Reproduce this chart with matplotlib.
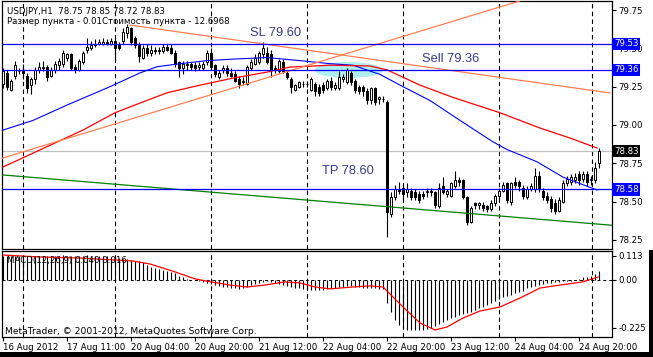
import numpy as np
import matplotlib
matplotlib.use('Agg')
import matplotlib.pyplot as plt
from matplotlib.patches import Ellipse, Rectangle

# ---------------- data ----------------
opens = [79.27, 79.34, 79.23, 79.32, 79.35, 79.35, 79.32, 79.26, 79.30, 79.36,
         79.37, 79.38, 79.32, 79.36, 79.39, 79.40, 79.44, 79.46, 79.38, 79.36,
         79.41, 79.49, 79.50, 79.52, 79.53, 79.53, 79.54, 79.53, 79.55, 79.52,
         79.55, 79.60, 79.63, 79.57, 79.52, 79.44, 79.50, 79.47, 79.49, 79.48,
         79.48, 79.51, 79.50, 79.47, 79.41, 79.37, 79.39, 79.40, 79.39, 79.38,
         79.37, 79.41, 79.47, 79.39, 79.31, 79.36, 79.37, 79.34, 79.33, 79.30,
         79.29, 79.27, 79.37, 79.40, 79.41, 79.46, 79.47, 79.46, 79.37, 79.35,
         79.41, 79.34, 79.30, 79.23, 79.25, 79.27, 79.27, 79.23, 79.27, 79.25,
         79.26, 79.24, 79.29, 79.24, 79.24, 79.30, 79.28, 79.34, 79.29, 79.25,
         79.25, 79.22, 79.16, 79.24, 79.17, 79.17, 79.15, 78.42, 78.53, 78.58,
         78.59, 78.56, 78.57, 78.56, 78.55, 78.55, 78.56, 78.57, 78.56, 78.47,
         78.60, 78.55, 78.54, 78.60, 78.64, 78.64, 78.53, 78.37, 78.49, 78.48,
         78.48, 78.47, 78.45, 78.49, 78.54, 78.57, 78.62, 78.50, 78.63, 78.63,
         78.59, 78.53, 78.58, 78.58, 78.67, 78.57, 78.54, 78.52, 78.49, 78.44,
         78.50, 78.62, 78.63, 78.64, 78.68, 78.65, 78.68, 78.64, 78.64, 78.75]
highs = [79.37, 79.36, 79.30, 79.42, 79.37, 79.40, 79.34, 79.31, 79.38, 79.41,
         79.42, 79.39, 79.38, 79.42, 79.44, 79.49, 79.47, 79.47, 79.40, 79.43,
         79.48, 79.57, 79.55, 79.56, 79.56, 79.57, 79.56, 79.57, 79.58, 79.54,
         79.63, 79.66, 79.64, 79.58, 79.54, 79.52, 79.53, 79.52, 79.51, 79.51,
         79.53, 79.53, 79.53, 79.49, 79.42, 79.42, 79.42, 79.41, 79.41, 79.41,
         79.42, 79.49, 79.50, 79.40, 79.36, 79.39, 79.39, 79.37, 79.35, 79.32,
         79.31, 79.39, 79.43, 79.46, 79.48, 79.54, 79.51, 79.49, 79.39, 79.43,
         79.43, 79.36, 79.31, 79.27, 79.29, 79.29, 79.29, 79.31, 79.28, 79.27,
         79.28, 79.30, 79.31, 79.28, 79.35, 79.33, 79.37, 79.35, 79.30, 79.26,
         79.26, 79.24, 79.25, 79.25, 79.19, 79.19, 79.16, 78.56, 78.61, 78.63,
         78.61, 78.62, 78.59, 78.58, 78.57, 78.57, 78.59, 78.59, 78.57, 78.62,
         78.66, 78.58, 78.63, 78.70, 78.66, 78.65, 78.54, 78.47, 78.50, 78.50,
         78.50, 78.48, 78.51, 78.55, 78.59, 78.63, 78.63, 78.63, 78.66, 78.64,
         78.61, 78.60, 78.62, 78.72, 78.70, 78.59, 78.56, 78.54, 78.52, 78.53,
         78.64, 78.67, 78.68, 78.69, 78.70, 78.70, 78.70, 78.67, 78.76, 78.85]
lows = [79.24, 79.23, 79.22, 79.30, 79.33, 79.30, 79.21, 79.20, 79.27, 79.34,
        79.35, 79.29, 79.31, 79.34, 79.36, 79.38, 79.42, 79.36, 79.34, 79.35,
        79.40, 79.47, 79.49, 79.51, 79.52, 79.52, 79.52, 79.52, 79.41, 79.49,
        79.53, 79.57, 79.52, 79.50, 79.41, 79.43, 79.45, 79.45, 79.46, 79.46,
        79.47, 79.48, 79.46, 79.38, 79.31, 79.33, 79.36, 79.36, 79.35, 79.36,
        79.36, 79.39, 79.36, 79.31, 79.30, 79.34, 79.32, 79.31, 79.28, 79.24,
        79.26, 79.26, 79.36, 79.39, 79.40, 79.44, 79.40, 79.31, 79.34, 79.34,
        79.34, 79.30, 79.21, 79.22, 79.24, 79.25, 79.25, 79.22, 79.19, 79.19,
        79.21, 79.23, 79.23, 79.23, 79.23, 79.28, 79.27, 79.26, 79.21, 79.20,
        79.19, 79.14, 79.14, 79.13, 79.14, 79.15, 78.27, 78.40, 78.51, 78.55,
        78.52, 78.53, 78.51, 78.51, 78.49, 78.52, 78.53, 78.54, 78.46, 78.46,
        78.55, 78.53, 78.53, 78.59, 78.60, 78.52, 78.35, 78.36, 78.45, 78.45,
        78.44, 78.43, 78.44, 78.47, 78.52, 78.56, 78.49, 78.48, 78.59, 78.57,
        78.52, 78.52, 78.57, 78.56, 78.56, 78.51, 78.49, 78.43, 78.42, 78.43,
        78.49, 78.60, 78.61, 78.62, 78.61, 78.63, 78.60, 78.61, 78.62, 78.72]
closes = [79.35, 79.25, 79.29, 79.39, 79.35, 79.34, 79.24, 79.30, 79.36, 79.38,
          79.38, 79.31, 79.36, 79.40, 79.42, 79.47, 79.46, 79.37, 79.36, 79.42,
          79.47, 79.51, 79.52, 79.53, 79.54, 79.54, 79.53, 79.55, 79.50, 79.50,
          79.61, 79.64, 79.54, 79.52, 79.45, 79.50, 79.47, 79.49, 79.48, 79.49,
          79.51, 79.49, 79.47, 79.40, 79.37, 79.40, 79.40, 79.38, 79.37, 79.39,
          79.40, 79.47, 79.38, 79.33, 79.34, 79.37, 79.34, 79.32, 79.29, 79.27,
          79.28, 79.38, 79.41, 79.44, 79.47, 79.50, 79.41, 79.36, 79.36, 79.42,
          79.35, 79.31, 79.25, 79.26, 79.28, 79.27, 79.27, 79.30, 79.22, 79.21,
          79.23, 79.29, 79.25, 79.26, 79.31, 79.31, 79.36, 79.28, 79.23, 79.22,
          79.22, 79.16, 79.24, 79.15, 79.18, 79.17, 78.43, 78.53, 78.58, 78.57,
          78.55, 78.58, 78.53, 78.53, 78.51, 78.54, 78.57, 78.56, 78.48, 78.59,
          78.56, 78.57, 78.62, 78.64, 78.63, 78.53, 78.37, 78.46, 78.48, 78.49,
          78.46, 78.45, 78.49, 78.54, 78.57, 78.61, 78.51, 78.62, 78.61, 78.60,
          78.54, 78.58, 78.60, 78.67, 78.58, 78.53, 78.51, 78.46, 78.44, 78.51,
          78.62, 78.65, 78.66, 78.66, 78.64, 78.68, 78.63, 78.65, 78.72, 78.83]

# moving averages (bar index, price)
blue_ma_bars = [0, 7.5, 16, 26.75, 34.25, 38.5, 44.25, 51, 57.5, 66, 74.25, 81.75,
                87.5, 94.25, 100, 106.75, 114.25, 122.5, 126, 133.5, 140, 148.5]
blue_ma_vals = [78.967, 79.03, 79.13, 79.25, 79.34, 79.38, 79.40, 79.42, 79.43, 79.44,
                79.42, 79.40, 79.39, 79.33, 79.25, 79.16, 79.03, 78.89, 78.84, 78.76,
                78.66, 78.576]
red_ma_bars = [0, 20, 28, 34.25, 41, 49.25, 57.5, 66, 71.75, 81.75, 91.75, 96,
               104.25, 112.5, 124.25, 134.25, 141.75, 148.5]
red_ma_vals = [78.726, 78.967, 79.08, 79.143, 79.21, 79.26, 79.306, 79.345, 79.378,
               79.39, 79.385, 79.36, 79.26, 79.18, 79.08, 78.98, 78.915, 78.85]

levels_blue = [79.53, 79.36, 78.58]
bid_price = 78.83

trend_up = [(0, 78.785), (127.5, 79.796)]
trend_down = [(31.75, 79.652), (151.75, 79.209)]
trend_green = [(0, 78.674), (151.75, 78.347)]

day_separators = [5, 28, 52, 76, 100, 124, 147.25]
time_ticks = [0, 16, 32, 48, 64, 80, 96, 112, 128, 144]
time_labels = ['16 Aug 2012', '17 Aug 11:00', '20 Aug 04:00', '20 Aug 20:00',
               '21 Aug 12:00', '22 Aug 04:00', '22 Aug 20:00', '23 Aug 12:00',
               '24 Aug 04:00', '24 Aug 20:00']
price_ticks = [78.25, 78.50, 78.75, 79.00, 79.25, 79.50, 79.75]

macd_hist = [0.112, 0.113, 0.112, 0.114, 0.113, 0.112, 0.111, 0.112, 0.113, 0.112,
             0.114, 0.113, 0.112, 0.113, 0.114, 0.115, 0.114, 0.113, 0.112, 0.113,
             0.114, 0.115, 0.114, 0.113, 0.112, 0.112, 0.111, 0.110, 0.108,
             0.103, 0.100, 0.097, 0.094, 0.091, 0.088, 0.085,
             0.068, 0.062, 0.057, 0.052, 0.046, 0.041, 0.036, 0.032,
             0.020, 0.012, 0.006, 0.002, -0.002,
             -0.006, -0.010, -0.014, -0.018,
             -0.024, -0.028, -0.032, -0.035, -0.038, -0.040, -0.041, -0.040,
             -0.034, -0.026, -0.018, -0.012, -0.008, -0.007,
             -0.010, -0.016, -0.020, -0.024, -0.028, -0.032,
             -0.036, -0.040, -0.042, -0.044, -0.045, -0.046, -0.046, -0.045,
             -0.043, -0.040, -0.038, -0.035, -0.032, -0.030, -0.030, -0.032,
             -0.034, -0.036, -0.038, -0.040, -0.040, -0.041, -0.042,
             -0.108, -0.150, -0.188, -0.210, -0.226, -0.233, -0.236, -0.237,
             -0.236, -0.234, -0.230, -0.224, -0.216, -0.205, -0.196, -0.188,
             -0.180, -0.173, -0.166, -0.160, -0.154,
             -0.150, -0.142, -0.134, -0.126, -0.118, -0.110, -0.100, -0.088,
             -0.082, -0.076, -0.070, -0.062, -0.056, -0.050, -0.040, -0.035,
             -0.030, -0.025, -0.020, -0.015, -0.012, -0.010, -0.008, -0.006,
             -0.005, -0.003, 0.002, 0.006, 0.012, 0.016, 0.020, 0.028, 0.040]
signal_bars = [0, 9.25, 19.25, 32.5, 36.75, 43, 48, 52, 56.75, 61, 65.5, 70.5, 74.25,
               78, 81.75, 87.5, 91.75, 95, 100, 104.25, 108, 111, 115, 119.25,
               124.25, 129.25, 134.25, 139.25, 145, 148.75]
signal_vals = [0.117, 0.108, 0.103, 0.089, 0.075, 0.038, 0.005, -0.009, -0.024, -0.033,
               -0.024, -0.009, -0.014, -0.033, -0.042, -0.033, -0.028, -0.033, -0.127,
               -0.202, -0.235, -0.221, -0.179, -0.146, -0.127, -0.085, -0.038, -0.024,
               -0.009, 0.014]
macd_ticks = [0.113, 0.0, -0.225]
macd_tick_labels = ['0.113', '0.00', '-0.225']

# ---------------- figure ----------------
W, H = 653, 357
fig = plt.figure(figsize=(W / 100, H / 100), dpi=100)
fig.patch.set_facecolor('white')


def rect(x0, y0, x1, y1):
    return [x0 / W, 1 - y1 / H, (x1 - x0) / W, (y1 - y0) / H]


ax = fig.add_axes(rect(2, 1, 612, 249))
axm = fig.add_axes(rect(2, 251, 612, 337))
XLIM = (-0.25, 152.25)
for a in (ax, axm):
    a.set_xlim(*XLIM)
    a.set_facecolor('white')
    for s in a.spines.values():
        s.set_linewidth(0.9)
        s.set_color('black')
ax.set_ylim(78.191, 79.809)
axm.set_ylim(-0.268, 0.136)

FS = 6.2
DASH = (0, (4, 3))

# day separators
for b in day_separators:
    ax.axvline(b, color='black', lw=0.8, ls=DASH, zorder=2)
    axm.axvline(b, color='black', lw=0.8, ls=DASH, zorder=2)

# ellipse object
ax.add_patch(Ellipse((86.5, 79.359), width=17, height=0.104,
                     facecolor='#AFEEEE', edgecolor='none', zorder=1))

# bid line
ax.axhline(bid_price, color='#C0C0C0', lw=0.9, zorder=2)

# candles
x = np.arange(len(closes))
o = np.array(opens)
c = np.array(closes)
hi = np.array(highs)
lo = np.array(lows)
ax.vlines(x, lo, hi, color='black', lw=0.8, zorder=3)
bull = c >= o
ax.bar(x[bull], c[bull] - o[bull], bottom=o[bull], width=0.55,
       facecolor='white', edgecolor='black', lw=0.7, zorder=4)
ax.bar(x[~bull], o[~bull] - c[~bull], bottom=c[~bull], width=0.55,
       facecolor='black', edgecolor='black', lw=0.7, zorder=4)

# moving averages
ax.plot(blue_ma_bars, blue_ma_vals, color='#0000FF', lw=0.8, zorder=5)
ax.plot(red_ma_bars, red_ma_vals, color='#FF0000', lw=0.9, zorder=5)

# trend lines
ax.axline(trend_up[0], trend_up[1], color='#FF7F50', lw=0.9, zorder=5)
ax.plot([trend_down[0][0], trend_down[1][0]], [trend_down[0][1], trend_down[1][1]],
        color='#FF7F50', lw=0.9, zorder=5)
ax.axline(trend_green[0], trend_green[1], color='#008000', lw=0.9, zorder=5)

# horizontal levels
for lv in levels_blue:
    ax.axhline(lv, color='#0000FF', lw=0.9, zorder=5)

# text objects
tcol = '#3A3A8C'
ax.text(61.75, 79.60, 'SL 79.60', fontsize=9.3, family='Liberation Sans',
        color=tcol, va='center', ha='left', zorder=6)
ax.text(104.75, 79.43, 'Sell 79.36', fontsize=9.3, family='Liberation Sans',
        color=tcol, va='center', ha='left', zorder=6)
ax.text(79.75, 78.70, 'TP 78.60', fontsize=9.3, family='Liberation Sans',
        color=tcol, va='center', ha='left', zorder=6)

# price axis
ax.yaxis.tick_right()
ax.set_yticks(price_ticks)
ax.set_yticklabels([f'{p:.2f}' for p in price_ticks])
ax.set_xticks([])
ax.tick_params(axis='y', direction='out', length=3, width=0.8, labelsize=FS, pad=1.5)

for lv, fc in [(79.53, '#0000FF'), (79.36, '#0000FF'), (78.58, '#0000FF'), (bid_price, 'black')]:
    ax.text(1.003, lv, f'{lv:.2f}', transform=ax.get_yaxis_transform(),
            fontsize=FS, color='white', va='center', ha='left', clip_on=False, zorder=10,
            bbox=dict(boxstyle='square,pad=0.2', facecolor=fc, edgecolor='none'))

# MACD panel
axm.axhline(0, color='black', lw=0.7, ls=(0, (3, 3)), zorder=1)
axm.vlines(x, 0, macd_hist, color='black', lw=0.8, zorder=3)
axm.plot(signal_bars, signal_vals, color='#FF0000', lw=0.9, zorder=4)
axm.yaxis.tick_right()
axm.set_yticks(macd_ticks)
axm.set_yticklabels(macd_tick_labels)
axm.tick_params(axis='y', direction='out', length=3, width=0.8, labelsize=FS, pad=1.5)
axm.set_xticks(time_ticks)
axm.set_xticklabels(time_labels)
axm.tick_params(axis='x', direction='out', length=3, width=0.8, labelsize=FS, pad=1.5)
for lbl in axm.get_xticklabels():
    lbl.set_ha('left')

# header texts
fig.text(7 / W, 1 - 11 / H, 'USDJPY,H1  78.75 78.85 78.72 78.83', fontsize=FS,
         va='center', ha='left', color='black')
fig.text(7 / W, 1 - 21 / H, 'Размер пункта - 0.01Стоимость пункта - 12.6968', fontsize=FS,
         va='center', ha='left', color='black')
fig.text(7 / W, 1 - 261 / H, 'MACD(12,26,9) 0.040 0.016', fontsize=FS,
         va='center', ha='left', color='black', zorder=10)
fig.text(5 / W, 1 - 331 / H, 'MetaTrader, © 2001-2012, MetaQuotes Software Corp.',
         fontsize=6.6, va='center', ha='left', color='black', zorder=10)

# window frame strips
fig.patches.append(Rectangle((0, 0), 1, 5 / H, transform=fig.transFigure,
                             facecolor='black', edgecolor='none'))
fig.patches.append(Rectangle((649 / W, 0), 4 / W, 107 / H, transform=fig.transFigure,
                             facecolor='black', edgecolor='none'))

fig.savefig('out.png', dpi=100)
